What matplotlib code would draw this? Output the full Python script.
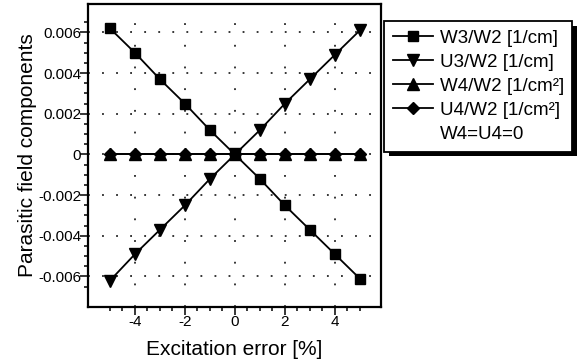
import numpy as np
import matplotlib
matplotlib.use("Agg")
import matplotlib.pyplot as plt
from matplotlib.lines import Line2D
from matplotlib.patches import Rectangle

plt.rcParams['font.family'] = ['Liberation Sans', 'DejaVu Sans']

# ---- data ----
excitation_error = [-5, -4, -3, -2, -1, 0, 1, 2, 3, 4, 5]
w3_w2 = [0.0062, 0.0050, 0.0037, 0.0025, 0.0012, 0.0, -0.0012, -0.0025, -0.0037, -0.0049, -0.0061]
u3_w2 = [-0.0062, -0.0049, -0.0037, -0.0025, -0.0012, 0.0, 0.0012, 0.0025, 0.0037, 0.0049, 0.0061]
w4_w2 = [0.0, 0.0, 0.0, 0.0, 0.0, 0.0, 0.0, 0.0, 0.0, 0.0, 0.0]
u4_w2 = [0.0, 0.0, 0.0, 0.0, 0.0, 0.0, 0.0, 0.0, 0.0, 0.0, 0.0]
series_labels = ["W3/W2 [1/cm]", "U3/W2 [1/cm]", "W4/W2 [1/cm²]", "U4/W2 [1/cm²]"]
note_label = "W4=U4=0"
xtick_values = [-4, -2, 0, 2, 4]
xtick_labels = ["-4", "-2", "0", "2", "4"]
ytick_values = [-0.006, -0.004, -0.002, 0.0, 0.002, 0.004, 0.006]
ytick_labels = ["-0.006", "-0.004", "-0.002", "0", "0.002", "0.004", "0.006"]

W, H = 579, 363
fig = plt.figure(figsize=(W / 100, H / 100), dpi=100)
ax = fig.add_axes([88 / W, 1 - 307 / H, (381 - 88) / W, (307 - 4) / H])

lw = 1.3
ms_kw = dict(color='black', lw=lw, markeredgecolor='black', markerfacecolor='black')
l1, = ax.plot(excitation_error, w3_w2, marker='s', ms=7.5, **ms_kw, zorder=4)
l2, = ax.plot(excitation_error, u3_w2, marker='v', ms=8.5, **ms_kw, zorder=4)
l3, = ax.plot(excitation_error, w4_w2, marker='^', ms=8.5, **ms_kw, zorder=4)
l4, = ax.plot(excitation_error, u4_w2, marker='D', ms=6.5, **ms_kw, zorder=4)

ax.set_xlim(-5.88, 5.85)
ax.set_ylim(-0.0075, 0.0074)

ax.set_xticks(xtick_values)
ax.set_xticklabels(xtick_labels)
ax.set_xticks(np.arange(-5, 5.01, 0.5), minor=True)
ax.set_yticks(ytick_values)
ax.set_yticklabels(ytick_labels)
ax.set_yticks(np.arange(-0.0065, 0.00651, 0.0005), minor=True)

ax.tick_params(which='major', direction='out', length=6, width=1.1, labelsize=11, pad=0)
ax.tick_params(which='minor', direction='out', length=3, width=1.1)
ax.tick_params(axis='y', which='major', pad=-1)

for s in ax.spines.values():
    s.set_linewidth(1.6)

ax.xaxis.grid(True, which='major', color='black', lw=1.1, linestyle=(0, (1.2, 13)))
ax.yaxis.grid(True, which='major', color='black', lw=1.1, linestyle=(0, (1.2, 8)))
ax.set_axisbelow(True)

ax.set_xlabel("Excitation error [%]", fontsize=15, labelpad=8)
ax.set_ylabel("Parasitic field components", fontsize=15, labelpad=1)

blank = Line2D([], [], color='none', marker=None)
leg = fig.legend([l1, l2, l3, l4, blank], series_labels + [note_label],
                 loc='upper left', bbox_to_anchor=(384 / W, 1 - 21 / H),
                 bbox_transform=fig.transFigure, fontsize=13.5, frameon=True,
                 fancybox=False, edgecolor='black', framealpha=1,
                 borderaxespad=0, borderpad=0.46, labelspacing=0.37,
                 handlelength=2.13, handletextpad=0.37)
leg.get_frame().set_linewidth(1.3)
leg.set_zorder(5)

fig.canvas.draw()
bb = leg.get_window_extent()
off = 4.5
shadow = Rectangle((bb.x0 + off, bb.y0 - off), bb.width, bb.height,
                   transform=None, facecolor='black', edgecolor='none', zorder=4)
fig.add_artist(shadow)

fig.savefig("out.png", dpi=100)
